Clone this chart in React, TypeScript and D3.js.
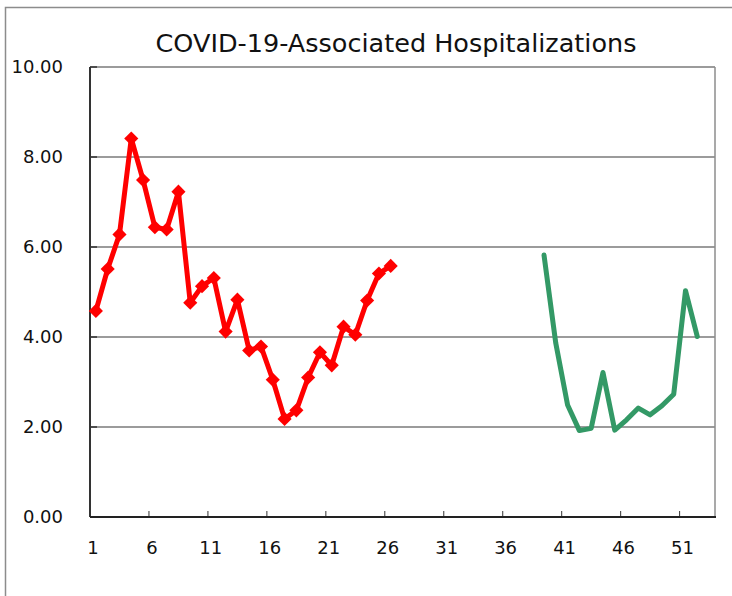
import React from "react";
import * as d3 from "d3";

const weeks: number[] = d3.range(1, 54);
const xTickLabels: number[] = [1, 6, 11, 16, 21, 26, 31, 36, 41, 46, 51];
const yTicks: number[] = [0, 2, 4, 6, 8, 10];

const redWeeks: number[] = d3.range(1, 27);
const redValues: number[] = [
  4.58, 5.51, 6.28, 8.41, 7.49, 6.44, 6.39, 7.23, 4.76, 5.13, 5.31, 4.12, 4.83,
  3.7, 3.79, 3.05, 2.18, 2.37, 3.1, 3.66, 3.37, 4.23, 4.05, 4.81, 5.41, 5.58,
];

const greenWeeks: number[] = d3.range(39, 53);
const greenValues: number[] = [
  5.82, 3.86, 2.49, 1.92, 1.97, 3.21, 1.93, 2.16, 2.42, 2.27, 2.47, 2.73, 5.03, 4.01,
];

const title = "COVID-19-Associated Hospitalizations";

export default function App() {
  const W = 732;
  const H = 596;
  const left = 90;
  const right = 715;
  const top = 67;
  const bottom = 517;

  const x = d3
    .scaleBand<number>()
    .domain(weeks)
    .range([left, right])
    .paddingInner(0)
    .paddingOuter(0);
  const cx = (w: number) => (x(w) as number) + x.bandwidth() / 2;
  const y = d3.scaleLinear().domain([0, 10]).range([bottom, top]);

  const red = redWeeks.map((w, i) => [cx(w), y(redValues[i])] as [number, number]);
  const green = greenWeeks.map((w, i) => [cx(w), y(greenValues[i])] as [number, number]);
  const line = d3.line<[number, number]>();

  const font = "'Century Gothic', 'DejaVu Sans', sans-serif";
  const tickBoundaries = d3.range(5, 53, 5);

  return (
    <svg
      width={W}
      height={H}
      style={{ position: "absolute", left: 0, top: 0, background: "#fff" }}
    >
      <rect x={5.5} y={7.5} width={760} height={620} fill="#fff" stroke="#8c8c8c" strokeWidth={1.5} />
      <text
        x={396}
        y={52}
        textAnchor="middle"
        fontFamily={font}
        fontSize={25.5}
        fill="#111"
      >
        {title}
      </text>
      {/* gridlines */}
      {yTicks.filter((t) => t > 0).map((t) => (
        <line key={t} x1={left} x2={right} y1={y(t)} y2={y(t)} stroke="#7a7a7a" strokeWidth={1.5} />
      ))}
      {/* right border */}
      <line x1={right} x2={right} y1={top} y2={bottom} stroke="#8c8c8c" strokeWidth={1.5} />
      {/* y ticks */}
      {yTicks.map((t) => (
        <line key={"yt" + t} x1={left} x2={left + 7} y1={y(t)} y2={y(t)} stroke="#333" strokeWidth={1.5} />
      ))}
      {/* x ticks */}
      {tickBoundaries.map((k) => (
        <line
          key={"xt" + k}
          x1={(x(k) as number) + x.bandwidth()}
          x2={(x(k) as number) + x.bandwidth()}
          y1={bottom}
          y2={bottom - 6}
          stroke="#333"
          strokeWidth={1}
        />
      ))}
      {/* axes */}
      <line x1={left} x2={left} y1={top} y2={bottom} stroke="#333" strokeWidth={2} />
      <line x1={left} x2={right + 1} y1={bottom} y2={bottom} stroke="#222" strokeWidth={2} />
      {/* y labels */}
      {yTicks.map((t) => (
        <text
          key={"yl" + t}
          x={63}
          y={y(t)}
          dy="0.35em"
          textAnchor="end"
          fontFamily={font}
          fontSize={18}
          fill="#111"
        >
          {d3.format(".2f")(t)}
        </text>
      ))}
      {/* x labels */}
      {xTickLabels.map((w) => (
        <text
          key={"xl" + w}
          x={cx(w) - 3}
          y={548}
          dy="0.35em"
          textAnchor="middle"
          fontFamily={font}
          fontSize={18}
          fill="#111"
        >
          {w}
        </text>
      ))}
      {/* red series */}
      <path d={line(red) || ""} fill="none" stroke="#ff0000" strokeWidth={5} strokeLinejoin="round" />
      {red.map(([px, py], i) => (
        <rect
          key={"m" + i}
          x={px - 5}
          y={py - 5}
          width={10}
          height={10}
          fill="#ff0000"
          transform={`rotate(45 ${px} ${py})`}
        />
      ))}
      {/* green series */}
      <path d={line(green) || ""} fill="none" stroke="#339966" strokeWidth={5} strokeLinejoin="round" strokeLinecap="round" />
    </svg>
  );
}
